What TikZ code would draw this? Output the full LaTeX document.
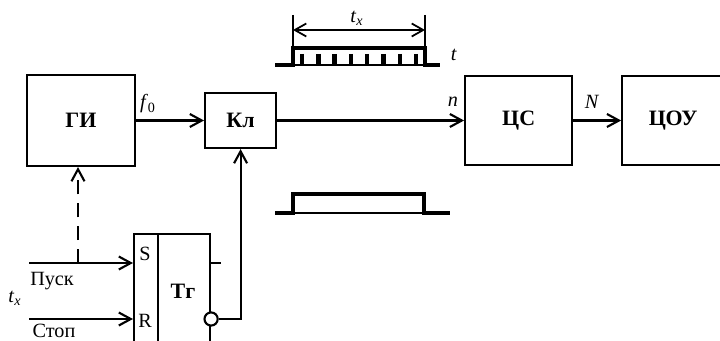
\documentclass[tikz,border=0pt]{standalone}
\usepackage{fontspec}
\setmainfont{Liberation Serif}
\usetikzlibrary{arrows.meta, positioning}

\begin{document}
\begin{tikzpicture}[
  x=0.02cm, y=-0.02cm,
  font=\fontsize{11.5}{13}\selectfont,
  blk/.style={draw, line width=1.2pt, inner sep=0pt, font=\fontsize{12.5}{14}\selectfont\bfseries},
  arr/.style={-{Straight Barb[length=2.4mm, width=2.6mm]}, line width=1.2pt},
  sig/.style={line width=1.8pt},
  lbl/.style={inner sep=0pt}
]
\clip (0,0) rectangle (720,341);

% main chain
\node[blk, minimum width=2.16cm, minimum height=1.82cm] (gi) at (81,120.5) {ГИ};
\node[blk, minimum width=1.42cm, minimum height=1.1cm, right=1.36cm of gi] (kl) {Кл};
\node[blk, minimum width=2.14cm, minimum height=1.78cm, right=3.74cm of kl] (cs) {ЦС};
\node[blk, minimum width=2.04cm, minimum height=1.78cm, right=0.96cm of cs] (cou) {ЦОУ};

\draw[arr] (gi) -- (kl);
\draw[arr] (kl) -- (cs);
\draw[arr] (cs) -- (cou);

\node[lbl] (f0) at (148,104) {\textit{f}\textsubscript{0}};
\node[lbl] (n) at (453,102) {\textit{n}};
\node[lbl] (N) at (592,102) {\textit{N}};

% trigger
\node[draw, line width=1.2pt, minimum width=1.52cm, minimum height=2.4cm, anchor=north west] (tg) at (133,233) {};
\draw[line width=1.2pt] (tg.north west) ++(25,0) -- ++(0,130);
\node[lbl] (s) at (145,254) {S};
\node[lbl] (r) at (145,321) {R};
\node[lbl, font=\fontsize{12.5}{14}\selectfont\bfseries] (tgl) at (183,291) {Тг};

\coordinate (pusk) at (29,263);
\coordinate (stop) at (29,319);
\coordinate (br) at (78,263);
\draw[arr] (pusk) -- (pusk -| tg.west);
\draw[arr] (stop) -- (stop -| tg.west);
\draw[arr, dash pattern=on 8pt off 5pt] (br) -- (br |- gi.south);
\draw[line width=1.2pt] (tg.east |- pusk) -- ++(10,0);
\node[circle, draw, line width=1.2pt, fill=white, minimum size=7.5pt, inner sep=0pt] (inv) at (tg.east |- stop) {};
\draw[arr] (inv.east) -- (inv.east -| kl.south) -- (kl.south);

\node[lbl] (puskl) at (52,281) {Пуск};
\node[lbl] (tx) at (15,298) {\textit{t}\textsubscript{\textit{x}}};
\node[lbl] (stopl) at (54,331) {Стоп};

% pulses
\draw[sig] (275,65) -- (293,65) -- (293,48) -- (425,48) -- (425,65) -- (440,65);
\draw[line width=1pt] (293,65) -- (425,65);
\foreach \i in {0,...,7}
  \draw[line width=2.6pt] (302+16.3*\i,54) -- (302+16.3*\i,65);
\draw[line width=1pt] (293,15) -- (293,47);
\draw[line width=1pt] (425,15) -- (425,47);
\draw[{Straight Barb[length=2.3mm, width=2.6mm]}-{Straight Barb[length=2.3mm, width=2.6mm]}, line width=1pt] (293,30) -- (425,30);
\node[lbl] (txt) at (357,18) {\textit{t}\textsubscript{\textit{x}}};
\node[lbl] (t) at (454,55) {\textit{t}};

\draw[sig] (275,213) -- (293,213) -- (293,194) -- (424,194) -- (424,213) -- (450,213);
\draw[line width=0.8pt] (293,213) -- (424,213);
\end{tikzpicture}
\end{document}
